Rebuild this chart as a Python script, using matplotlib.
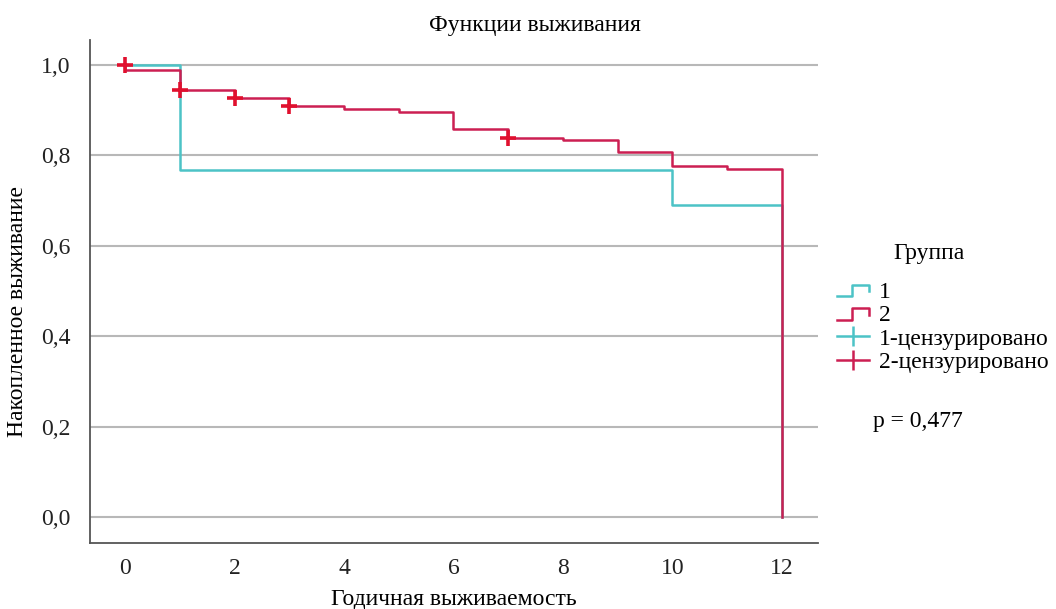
import numpy as np
import matplotlib
matplotlib.use("Agg")
import matplotlib.pyplot as plt
from matplotlib.lines import Line2D
from matplotlib.legend_handler import HandlerBase

# Kaplan-Meier curves
time_1 = [0, 1, 10, 12]
surv_1 = [1.0, 0.768, 0.691, 0.0]

time_2 = [0, 0, 1, 2, 3, 4, 5, 6, 7, 8, 9, 10, 11, 12]
surv_2 = [1.0, 0.989, 0.945, 0.926, 0.908, 0.902, 0.896, 0.858, 0.838, 0.833,
          0.808, 0.776, 0.770, 0.0]

cens_time_2 = [0, 1, 2, 3, 7]
cens_surv_2 = [1.0, 0.945, 0.926, 0.908, 0.838]

x_ticks = [0, 2, 4, 6, 8, 10, 12]
y_ticks = [0.0, 0.2, 0.4, 0.6, 0.8, 1.0]
group_labels = ["1", "2", "1-цензурировано", "2-цензурировано"]

TEAL = "#4cc3c6"
RED = "#cc1f52"
MARK = "#e0102e"
FS = 17

plt.rcParams["font.family"] = ["Liberation Serif", "DejaVu Serif"]


class StepHandler(HandlerBase):
    """draws the little step glyph SPSS uses in its legend"""

    def create_artists(self, legend, orig, xd, yd, width, height, fontsize, trans):
        xs = [xd, xd + width * 0.45, xd + width * 0.45, xd + width, xd + width]
        ys = [yd + height * 0.1, yd + height * 0.1, yd + height * 0.8,
              yd + height * 0.8, yd + height * 0.4]
        ln = Line2D(xs, ys, color=orig.get_color(), lw=orig.get_linewidth(),
                    transform=trans)
        return [ln]


fig = plt.figure(figsize=(10.56, 6.09), dpi=100)
ax = fig.add_axes([90 / 1056, 66 / 609, 728 / 1056, 503 / 609])

ax.step(time_1, surv_1, where="post", color=TEAL, lw=1.8, zorder=3)
ax.step(time_2, surv_2, where="post", color=RED, lw=1.8, zorder=4)
ax.plot(cens_time_2, cens_surv_2, linestyle="none", marker="+", color=MARK,
        markersize=11, markeredgewidth=2.6, zorder=5)

ax.set_xlim(-0.64, 12.66)
ax.set_ylim(-0.0575, 1.055)
ax.set_xticks(x_ticks)
ax.set_yticks(y_ticks)
ax.set_yticklabels([("%.1f" % v).replace(".", ",") for v in y_ticks])
ax.tick_params(length=0, labelsize=FS, colors="#222222")
ax.tick_params(axis="y", pad=14)
ax.tick_params(axis="x", pad=11)
ax.grid(axis="y", color="#b8b8b8", lw=1.5)
ax.set_axisbelow(True)
for s in ["top", "right"]:
    ax.spines[s].set_visible(False)
for s in ["left", "bottom"]:
    ax.spines[s].set_color("#555555")
    ax.spines[s].set_linewidth(1.3)

ax.set_xlabel("Годичная выживаемость", fontsize=FS)
ax.xaxis.set_label_coords(0.5, -0.092)
ax.set_ylabel("Накопленное выживание", fontsize=FS)
ax.yaxis.set_label_coords(-0.085, 0.46)
fig.text(535 / 1056, 1 - 25 / 609, "Функции выживания", fontsize=FS,
         ha="center", va="center")

handles = [
    Line2D([], [], color=TEAL, lw=1.8),
    Line2D([], [], color=RED, lw=1.8),
    Line2D([], [], color=TEAL, lw=1.8, marker="|", markersize=15, markeredgewidth=1.8),
    Line2D([], [], color=RED, lw=1.8, marker="|", markersize=15, markeredgewidth=1.8),
]
leg = fig.legend(handles, group_labels, loc="upper left",
                 bbox_to_anchor=(816 / 1056, 1 - 260 / 609), frameon=False,
                 fontsize=FS, handlelength=1.35,
                 handletextpad=0.4, labelspacing=0.08, numpoints=1,
                 handler_map={handles[0]: StepHandler(), handles[1]: StepHandler()})
fig.text(929 / 1056, 1 - 253 / 609, "Группа", fontsize=FS, ha="center", va="center")
fig.text(873 / 1056, 1 - 421 / 609, "p = 0,477", fontsize=FS, va="center")

fig.savefig("out.png", dpi=100)
